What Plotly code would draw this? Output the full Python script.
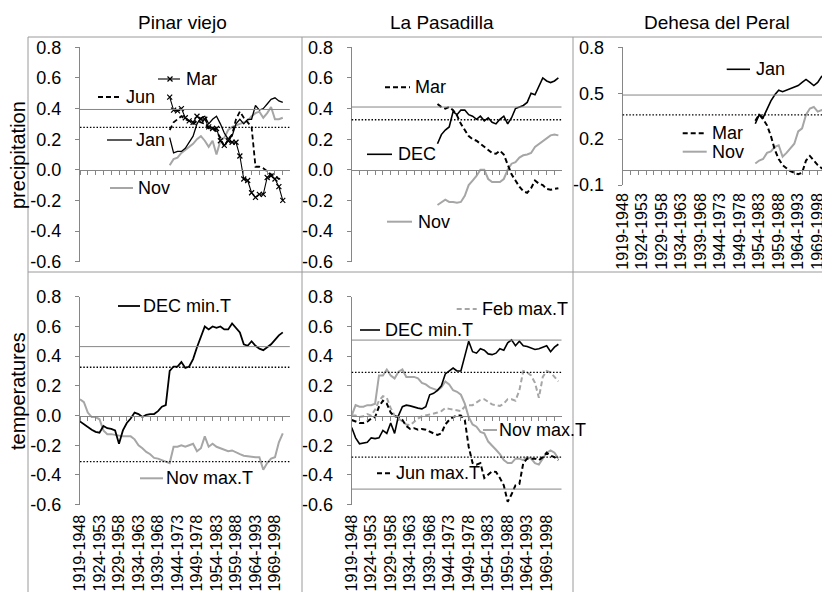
import plotly.graph_objects as go

# ---------------- data ----------------
periods = [f"{s}-{s + 29}" for s in range(1919, 1973)]   # 30-year moving windows (categories)
tick_labels = ["1919-1948", "1924-1953", "1929-1958", "1934-1963", "1939-1968", "1944-1973",
               "1949-1978", "1954-1983", "1959-1988", "1964-1993", "1969-1998"]

y_ticks = [-0.6, -0.4, -0.2, 0.0, 0.2, 0.4, 0.6, 0.8]
y_ticktext = ["-0.6", "-0.4", "-0.2", "0.0", "0.2", "0.4", "0.6", "0.8"]
y_ticks_dp = [-0.1, 0.2, 0.5, 0.8]
y_ticktext_dp = ["-0.1", "0.2", "0.5", "0.8"]

# Pinar viejo – precipitation (starts 1942-1971)
pv_p_start = "1942-1971"
pv_p_jan = [0.21, 0.11, 0.12, 0.12, 0.14, 0.18, 0.22, 0.30, 0.34, 0.35, 0.30, 0.33, 0.35, 0.30, 0.24,
            0.20, 0.22, 0.30, 0.33, 0.30, 0.33, 0.33, 0.42, 0.39, 0.40, 0.43, 0.46, 0.47, 0.45, 0.44]
pv_p_mar = [0.475, 0.39, 0.385, 0.40, 0.34, 0.32, 0.31, 0.35, 0.33, 0.33, 0.28, 0.27, 0.27, 0.19, 0.16,
            0.19, 0.18, 0.18, 0.09, -0.06, -0.07, -0.15, -0.18, -0.16, -0.16, -0.05, -0.04, -0.06, -0.11, -0.20]
pv_p_jun = [0.26, 0.31, 0.33, 0.35, 0.33, 0.32, 0.30, 0.32, 0.31, 0.30, 0.27, 0.27, 0.25, 0.21, 0.15,
            0.20, 0.23, 0.33, 0.38, 0.34, 0.31, 0.28, 0.02, 0.02, 0.01, -0.01, -0.03, -0.04, -0.06, -0.05]
pv_p_nov = [0.03, 0.07, 0.08, 0.11, 0.13, 0.15, 0.17, 0.20, 0.22, 0.19, 0.15, 0.19, 0.10, 0.19, 0.21,
            0.26, 0.28, 0.29, 0.30, 0.31, 0.32, 0.35, 0.37, 0.38, 0.34, 0.37, 0.41, 0.33, 0.33, 0.34]
pv_p_sig_solid = [0.394]
pv_p_sig_dot = [0.277]

# La Pasadilla – precipitation (starts 1941-1970)
lp_p_start = "1941-1970"
lp_p_mar = [0.43, 0.41, 0.40, 0.41, 0.39, 0.355, 0.30, 0.26, 0.22, 0.20, 0.19, 0.17, 0.15, 0.13, 0.11, 0.105,
            0.125, 0.10, 0.04, -0.03, -0.07, -0.11, -0.14, -0.15, -0.12, -0.07, -0.09, -0.10, -0.125, -0.13, -0.125, -0.12]
lp_p_dec = [0.17, 0.23, 0.26, 0.28, 0.38, 0.36, 0.39, 0.39, 0.36, 0.35, 0.33, 0.35, 0.32, 0.34, 0.31, 0.30,
            0.33, 0.35, 0.30, 0.34, 0.40, 0.41, 0.42, 0.44, 0.50, 0.49, 0.55, 0.60, 0.58, 0.57, 0.58, 0.60]
lp_p_nov = [-0.23, -0.215, -0.195, -0.21, -0.21, -0.215, -0.21, -0.17, -0.10, -0.07, -0.04, 0.00, 0.00, -0.06, -0.08, -0.08,
            -0.08, -0.06, 0.00, 0.04, 0.05, 0.08, 0.095, 0.10, 0.11, 0.15, 0.17, 0.19, 0.21, 0.225, 0.23, 0.225]
lp_p_sig_solid = [0.41]
lp_p_sig_dot = [0.327]

# Dehesa del Peral – precipitation (starts 1953-1982)
dp_p_start = "1953-1982"
dp_p_jan = [0.30, 0.36, 0.34, 0.40, 0.45, 0.49, 0.52, 0.51, 0.52, 0.53, 0.54, 0.55, 0.57, 0.59, 0.57, 0.55, 0.57, 0.61, 0.60, 0.62]
dp_p_mar = [0.32, 0.36, 0.33, 0.29, 0.22, 0.13, 0.07, 0.03, 0.01, -0.01, -0.02, -0.03, -0.02, 0.06, 0.09, 0.06, 0.03, 0.01, 0.00, 0.01]
dp_p_nov = [0.04, 0.06, 0.07, 0.11, 0.12, 0.15, 0.16, 0.085, 0.11, 0.14, 0.17, 0.25, 0.27, 0.36, 0.40, 0.41, 0.38, 0.39, 0.38, 0.38]
dp_p_sig_solid = [0.488]
dp_p_sig_dot = [0.358]

# Pinar viejo – temperatures (starts 1919-1948)
pv_t_start = "1919-1948"
pv_t_dec_min = [-0.04, -0.06, -0.08, -0.095, -0.11, -0.115, -0.07, -0.085, -0.09, -0.10, -0.19, -0.10, -0.05, -0.02,
                0.02, 0.01, -0.01, 0.005, 0.01, 0.01, 0.03, 0.06, 0.07, 0.30, 0.33, 0.33, 0.36, 0.32, 0.33, 0.38,
                0.46, 0.53, 0.60, 0.58, 0.60, 0.59, 0.60, 0.58, 0.58, 0.62, 0.59, 0.56, 0.48, 0.47, 0.50, 0.47,
                0.45, 0.44, 0.46, 0.48, 0.51, 0.54, 0.56]
pv_t_nov_max = [0.11, 0.09, 0.02, -0.01, -0.01, -0.025, -0.10, -0.125, -0.125, -0.13, -0.14, -0.14, -0.14, -0.14,
                -0.16, -0.20, -0.22, -0.245, -0.26, -0.285, -0.29, -0.30, -0.305, -0.32, -0.21, -0.21, -0.20, -0.21,
                -0.20, -0.19, -0.24, -0.22, -0.14, -0.21, -0.19, -0.21, -0.22, -0.23, -0.24, -0.235, -0.25, -0.26,
                -0.27, -0.275, -0.28, -0.28, -0.28, -0.365, -0.32, -0.29, -0.28, -0.18, -0.12]
pv_t_sig_solid = [0.464]
pv_t_sig_dot = [0.325, -0.31]

# La Pasadilla – temperatures (starts 1919-1948)
lp_t_start = "1919-1948"
lp_t_dec_min = [-0.08, -0.15, -0.19, -0.185, -0.18, -0.15, -0.155, -0.15, -0.10, -0.12, -0.05, -0.12, 0.00, 0.06,
                0.07, 0.065, 0.055, 0.05, 0.045, 0.06, 0.14, 0.15, 0.17, 0.20, 0.28, 0.30, 0.32, 0.30, 0.30, 0.40,
                0.50, 0.43, 0.42, 0.45, 0.44, 0.415, 0.41, 0.42, 0.45, 0.44, 0.49, 0.51, 0.47, 0.50, 0.47, 0.465,
                0.455, 0.445, 0.45, 0.46, 0.47, 0.43, 0.46, 0.48]
lp_t_feb_max = [0.00, 0.00, -0.01, -0.005, 0.01, 0.00, 0.04, 0.10, 0.13, 0.12, 0.05, 0.00, -0.02, -0.04, -0.06,
                -0.065, -0.04, -0.02, -0.005, 0.00, 0.005, 0.015, 0.02, 0.03, 0.05, 0.045, 0.04, 0.035, 0.03, 0.06,
                0.07, 0.07, 0.09, 0.105, 0.11, 0.09, 0.075, 0.07, 0.065, 0.08, 0.11, 0.11, 0.10, 0.17, 0.30, 0.29,
                0.27, 0.22, 0.12, 0.26, 0.30, 0.29, 0.26, 0.23]
lp_t_jun_max = [-0.03, -0.04, -0.05, -0.05, -0.04, -0.02, -0.01, 0.06, 0.10, 0.08, 0.02, -0.005, -0.01, -0.03,
                -0.07, -0.09, -0.085, -0.095, -0.09, -0.095, -0.11, -0.12, -0.13, -0.12, -0.06, -0.03, -0.01, 0.00,
                0.00, -0.03, -0.21, -0.32, -0.33, -0.32, -0.42, -0.40, -0.375, -0.38, -0.42, -0.47, -0.58, -0.53,
                -0.47, -0.46, -0.32, -0.29, -0.29, -0.29, -0.30, -0.28, -0.25, -0.27, -0.28, -0.30]
lp_t_nov_max = [0.00, 0.07, 0.06, 0.06, 0.07, 0.07, 0.08, 0.27, 0.27, 0.31, 0.27, 0.25, 0.295, 0.31, 0.26, 0.26,
                0.26, 0.25, 0.22, 0.21, 0.19, 0.18, 0.17, 0.19, 0.23, 0.21, 0.17, 0.16, 0.14, 0.08, -0.01, -0.06,
                -0.075, -0.11, -0.12, -0.175, -0.20, -0.23, -0.26, -0.30, -0.32, -0.32, -0.29, -0.29, -0.30, -0.28,
                -0.29, -0.32, -0.33, -0.29, -0.25, -0.235, -0.25, -0.29]
lp_t_sig_solid = [0.508, -0.495]
lp_t_sig_dot = [0.29, -0.28]

# ---------------- layout helpers ----------------
OFF = 8                      # page body margin in the browser
W, H = 830 - OFF, 592 - OFF  # figure size so that it fills the window exactly
FONT = "Liberation Sans, Arial, sans-serif"
BLACK = "#000000"
GRAY = "#a6a6a6"
AXIS = "#868686"
FRAME = "#9a9a9a"
DASH = "5px,3px"
DOT = "1.5px,1.8px"


def fx(px):
    return (px - OFF) / W


def fy(py):
    return 1 - (py - OFF) / H


def xid(n):
    return "x" if n == 1 else f"x{n}"


def yid(n):
    return "y" if n == 1 else f"y{n}"


def xs(start, values):
    i0 = periods.index(start)
    return periods[i0:i0 + len(values)]


fig = go.Figure()

# panel geometry (window pixels)
panels = {
    1: dict(x=(80, 289.8), y=(47.3, 261.7), yr=[-0.6, 0.8], tv=y_ticks, tt=y_ticktext, xmax=53.8, lab=False, zero=169.8, so=0),
    2: dict(x=(351.7, 561.5), y=(47.3, 261.7), yr=[-0.6, 0.8], tv=y_ticks, tt=y_ticktext, xmax=53.8, lab=False, zero=169.8, so=0),
    3: dict(x=(622.7, 830), y=(47.3, 185.0), yr=[-0.1, 0.8], tv=y_ticks_dp, tt=y_ticktext_dp, xmax=53.15, lab=True, zero=169.8, so=4),
    4: dict(x=(80, 289.8), y=(296.7, 504.7), yr=[-0.6, 0.8], tv=y_ticks, tt=y_ticktext, xmax=53.8, lab=True, zero=415.6, so=6),
    5: dict(x=(351.7, 561.5), y=(296.7, 504.7), yr=[-0.6, 0.8], tv=y_ticks, tt=y_ticktext, xmax=53.8, lab=True, zero=415.6, so=6),
}

layout_axes = {}
for n, p in panels.items():
    xd = [fx(p["x"][0]), min(1.0, fx(p["x"][1]))]
    yd = [fy(p["y"][1]), fy(p["y"][0])]
    xkey = "xaxis" if n == 1 else f"xaxis{n}"
    ykey = "yaxis" if n == 1 else f"yaxis{n}"
    layout_axes[xkey] = dict(
        domain=xd, anchor=yid(n), type="category", categoryorder="array", categoryarray=periods,
        range=[0, p["xmax"]], tickmode="array", tickvals=tick_labels, ticktext=tick_labels,
        showticklabels=p["lab"], tickangle=-90, tickfont=dict(size=16, color=BLACK, family=FONT),
        ticks="", ticklen=0, showline=False, showgrid=False, zeroline=False, ticklabelstandoff=p["so"],
        automargin=False,
    )
    layout_axes[ykey] = dict(
        domain=yd, anchor=xid(n), range=p["yr"], tickmode="array", tickvals=p["tv"], ticktext=p["tt"],
        showline=True, linecolor=AXIS, linewidth=1, ticks="outside", ticklen=4, tickcolor=AXIS,
        tickfont=dict(size=18, color=BLACK, family=FONT), showgrid=False, zeroline=False,
        ticklabelstandoff=10, automargin=False,
    )
    # zero-crossing category axis line with tick marks
    layout_axes[f"xaxis{n + 5}"] = dict(
        domain=xd, overlaying=xid(n), anchor="free", position=fy(p["zero"]), type="linear",
        range=[0, p["xmax"]], showline=True, linecolor=AXIS, linewidth=1, ticks="outside", ticklen=4,
        tickcolor=AXIS, tick0=0, dtick=2, showticklabels=False, showgrid=False, zeroline=False,
        automargin=False,
    )
    fig.add_trace(go.Scatter(x=[None], y=[None], xaxis=f"x{n + 5}", yaxis=yid(n), mode="lines",
                             showlegend=False, hoverinfo="skip"))


def add_line(n, start, values, color, dash="solid", width=1.8, marker=None):
    kw = dict(x=xs(start, values), y=values, xaxis=xid(n), yaxis=yid(n), showlegend=False,
              line=dict(color=color, dash=dash, width=width), mode="lines")
    if marker:
        kw["mode"] = "lines+markers"
        kw["marker"] = marker
    fig.add_trace(go.Scatter(**kw))


shapes = []


def add_sig(n, vals, dotted):
    for v in vals:
        shapes.append(dict(type="line", xref=f"{xid(n)} domain", yref=yid(n), x0=0, x1=1, y0=v, y1=v,
                           line=dict(color=BLACK if dotted else AXIS, width=1.3 if dotted else 1,
                                     dash=DOT if dotted else "solid")))


# Panel 1
add_line(1, pv_p_start, pv_p_nov, GRAY, width=2)
add_line(1, pv_p_start, pv_p_jan, BLACK, width=1.3)
add_line(1, pv_p_start, pv_p_jun, BLACK, dash=DASH, width=1.8)
add_line(1, pv_p_start, pv_p_mar, BLACK, width=1.1,
         marker=dict(symbol="x-thin", size=5, line=dict(color=BLACK, width=1.2)))
add_sig(1, pv_p_sig_solid, False)
add_sig(1, pv_p_sig_dot, True)

# Panel 2
add_line(2, lp_p_start, lp_p_nov, GRAY, width=2)
add_line(2, lp_p_start, lp_p_dec, BLACK, width=1.6)
add_line(2, lp_p_start, lp_p_mar, BLACK, dash=DASH, width=2)
add_sig(2, lp_p_sig_solid, False)
add_sig(2, lp_p_sig_dot, True)

# Panel 3
add_line(3, dp_p_start, dp_p_nov, GRAY, width=2)
add_line(3, dp_p_start, dp_p_jan, BLACK, width=1.6)
add_line(3, dp_p_start, dp_p_mar, BLACK, dash=DASH, width=2)
add_sig(3, dp_p_sig_solid, False)
add_sig(3, dp_p_sig_dot, True)

# Panel 4
add_line(4, pv_t_start, pv_t_nov_max, GRAY, width=2)
add_line(4, pv_t_start, pv_t_dec_min, BLACK, width=1.8)
add_sig(4, pv_t_sig_solid, False)
add_sig(4, pv_t_sig_dot, True)

# Panel 5
add_line(5, lp_t_start, lp_t_nov_max, GRAY, width=2)
add_line(5, lp_t_start, lp_t_feb_max, GRAY, dash=DASH, width=2)
add_line(5, lp_t_start, lp_t_dec_min, BLACK, width=1.6)
add_line(5, lp_t_start, lp_t_jun_max, BLACK, dash=DASH, width=2)
add_sig(5, lp_t_sig_solid, False)
add_sig(5, lp_t_sig_dot, True)

# frame lines (table grid)
for (x0, y0, x1, y1) in [(28, 37, 830, 37), (28, 272, 830, 272), (28, 37, 28, 592),
                         (302, 37, 302, 592), (573, 37, 573, 592)]:
    shapes.append(dict(type="line", xref="paper", yref="paper", x0=fx(x0), x1=fx(x1), y0=fy(y0), y1=fy(y1),
                       line=dict(color=FRAME, width=1)))

annotations = []


def text(px, py, s, size=18, anchor="left", angle=0):
    annotations.append(dict(xref="paper", yref="paper", x=fx(px), y=fy(py), text=s, showarrow=False,
                            xanchor=anchor, yanchor="middle", textangle=angle,
                            font=dict(size=size, color=BLACK, family=FONT)))


def sample(x0, x1, py, color, dash="solid", width=1.8):
    shapes.append(dict(type="line", xref="paper", yref="paper", x0=fx(x0), x1=fx(x1), y0=fy(py), y1=fy(py),
                       line=dict(color=color, dash=dash, width=width)))


# titles
text(182.5, 22.7, "Pinar viejo", size=19, anchor="center")
text(441.7, 22.7, "La Pasadilla", size=19, anchor="center")
text(717, 22.7, "Dehesa del Peral", size=19, anchor="center")
text(18, 155, "precipitation", size=20, anchor="center", angle=-90)
text(18, 391, "temperatures", size=20, anchor="center", angle=-90)

# panel 1 labels
sample(158, 180, 79, BLACK, width=1.1)
shapes.append(dict(type="line", xref="paper", yref="paper", x0=fx(167.5), x1=fx(172.5), y0=fy(76.5), y1=fy(81.5),
                   line=dict(color=BLACK, width=1.2)))
shapes.append(dict(type="line", xref="paper", yref="paper", x0=fx(167.5), x1=fx(172.5), y0=fy(81.5), y1=fy(76.5),
                   line=dict(color=BLACK, width=1.2)))
text(184, 79, "Mar")
sample(98, 122, 97, BLACK, dash=DASH)
text(124, 97, "Jun")
sample(107, 132, 140, BLACK, width=1.3)
text(134, 140, "Jan")
sample(110, 133, 188, GRAY, width=2)
text(136, 188, "Nov")

# panel 2 labels
sample(385, 410, 87.3, BLACK, dash=DASH, width=2)
text(413, 87.3, "Mar")
sample(367, 392, 154.3, BLACK, width=1.6)
text(396, 154.3, "DEC")
sample(387, 412, 221.7, GRAY, width=2)
text(416, 221.7, "Nov")

# panel 3 labels
sample(726.7, 750, 69.3, BLACK, width=1.6)
text(754, 69.3, "Jan")
sample(682.7, 706.7, 133.3, BLACK, dash=DASH, width=2)
text(710, 133.3, "Mar")
sample(682.7, 706.7, 151.7, GRAY, width=2)
text(710, 151.7, "Nov")

# panel 4 labels
sample(118, 140, 306, BLACK, width=1.8)
text(141, 306, "DEC min.T")
sample(140, 163, 478.3, GRAY, width=2)
text(164, 478.3, "Nov max.T")

# panel 5 labels
sample(456.7, 476.7, 309, GRAY, dash=DASH, width=2)
text(480, 309, "Feb max.T")
sample(360, 380, 330, BLACK, width=1.6)
text(383, 330, "DEC min.T")
sample(483, 497, 430, GRAY, width=2)
text(497, 430, "Nov max.T")
sample(377, 392, 473.3, BLACK, dash=DASH, width=2)
text(394, 473.3, "Jun max.T")

fig.update_layout(
    width=W, height=H, autosize=False, margin=dict(l=0, r=0, t=0, b=0, pad=0),
    paper_bgcolor="white", plot_bgcolor="rgba(0,0,0,0)", showlegend=False,
    font=dict(family=FONT, color=BLACK), shapes=shapes, annotations=annotations,
    **layout_axes,
)

fig.write_html("out.html")
